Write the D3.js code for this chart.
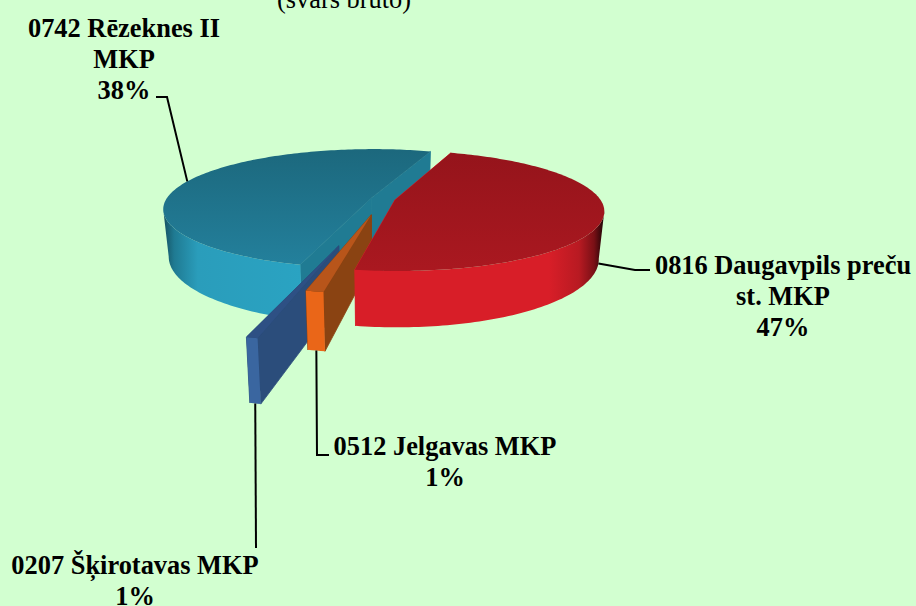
<!DOCTYPE html>
<html>
<head>
<meta charset="utf-8">
<script src="https://cdn.jsdelivr.net/npm/d3@7"></script>
<style>
  html, body { margin: 0; padding: 0; background: #d2ffd0; }
  svg { display: block; }
  text { font-family: "Liberation Serif", serif; fill: #000; }
</style>
</head>
<body>
<div id="chart"></div>
<script>
// values as printed on the labels
var names = ["0816 Daugavpils preču", "0512 Jelgavas MKP", "0207 Šķirotavas MKP", "0742 Rēzeknes II"];
var percents = [47, 1, 1, 38];
// the wedges are not drawn to their labels (teal is much wider than 38%), these are read off the picture
var drawnShares = [47.4, 1.1, 0.65, 50.85];
var explode = [0.06, 0.265, 0.73, 0.06];
var labelLines = [
  ["0816 Daugavpils preču", "st. MKP", "47%"],
  ["0512 Jelgavas MKP", "1%"],
  ["0207 Šķirotavas MKP", "1%"],
  ["0742 Rēzeknes II", "MKP", "38%"]
];

var width = 916, height = 606;

// flattened pie: rx, ry, perspective strength, height of the disc
var cx = 383, cy = 199, rx = 205, ry = 58, persp = 0.18, depth = 46;

var svg = d3.select("#chart").append("svg")
  .attr("width", width)
  .attr("height", height);

var defs = svg.append("defs");

function vGrad(id, from, to) {
  var g = defs.append("linearGradient").attr("id", id)
    .attr("x1", 0).attr("y1", 0).attr("x2", 0).attr("y2", 1);
  g.append("stop").attr("offset", 0).attr("stop-color", from);
  g.append("stop").attr("offset", 1).attr("stop-color", to);
}

function hGrad(id, x1, x2, stops) {
  var g = defs.append("linearGradient").attr("id", id)
    .attr("gradientUnits", "userSpaceOnUse")
    .attr("x1", x1).attr("y1", 0).attr("x2", x2).attr("y2", 0);
  stops.forEach(function (s) {
    g.append("stop").attr("offset", s[0]).attr("stop-color", s[1]);
  });
}

vGrad("redTop", "#95141b", "#aa1820");
vGrad("tealTop", "#1c687d", "#23809c");
hGrad("redSide", 354, 604, [[0, "#d81e28"], [0.78, "#d81e28"], [0.9, "#b81a22"], [0.96, "#7a1016"], [1, "#1c0406"]]);
hGrad("tealSide", 163, 302, [[0, "#15505f"], [0.08, "#1f7a92"], [0.25, "#2a9dbb"], [1, "#2aa3c2"]]);

var colors = [
  { top: "url(#redTop)", side: "url(#redSide)", face: "#d81e28" },
  { top: "#b8551a", side: "#ea6618", face: "#8a4312" },
  { top: "#2e5084", side: "#3a66a0", face: "#2b4d7b" },
  { top: "url(#tealTop)", side: "url(#tealSide)", face: "#207b93" }
];

var arcs = d3.pie().sort(null)
  .startAngle(19.2 * Math.PI / 180)
  .endAngle(379.2 * Math.PI / 180)(drawnShares);

// u, v are on the unit disc (v towards the viewer), z 0 is top 1 is bottom
function project(u, v, z) {
  var p = 1 / (1 - persp * v);
  var shrink = 1 - 0.025 * z;
  return [cx + u * rx * p * shrink, cy + v * ry * p + z * depth * p];
}

function polar(a, r, off, z) {
  return project(Math.sin(off.a) * off.e + Math.sin(a) * r,
    -Math.cos(off.a) * off.e - Math.cos(a) * r, z);
}

var line = d3.line();

function rim(d, off, z) {
  var n = Math.max(2, Math.ceil((d.endAngle - d.startAngle) / 0.02));
  return d3.range(n + 1).map(function (i) {
    return polar(d.startAngle + (d.endAngle - d.startAngle) * i / n, 1, off, z);
  });
}

// only the part of the wall between the silhouette and the front shows
function visibleWall(top, bottom) {
  var xs = top.map(function (p) { return p[0]; });
  var lo = d3.minIndex(xs), hi = d3.maxIndex(xs), a = 0, b = top.length - 1;
  if (lo > 0 && lo < b) b = lo;
  if (hi > 0 && hi < top.length - 1) a = hi;
  return top.slice(a, b + 1).concat(bottom.slice(a, b + 1).reverse());
}

// back to front
var order = [3, 2, 1, 0];
var slices = svg.selectAll("g.slice")
  .data(order)
  .enter().append("g")
  .attr("class", "slice")
  .each(function (idx) {
    var g = d3.select(this), d = arcs[idx], c = colors[idx];
    var off = { a: (d.startAngle + d.endAngle) / 2, e: explode[idx] };
    var top = rim(d, off, 0), bottom = rim(d, off, 1);

    // two cut faces, stroked so no pale seam shows next to the top
    [d.endAngle, d.startAngle].forEach(function (a) {
      g.append("path")
        .attr("d", line([polar(a, 0, off, 0), polar(a, 1, off, 0), polar(a, 1, off, 1), polar(a, 0, off, 1)]) + "Z")
        .attr("fill", c.face)
        .attr("stroke", c.face)
        .attr("stroke-width", 0.8);
    });

    // outer wall
    g.append("path")
      .attr("d", line(visibleWall(top, bottom)) + "Z")
      .attr("fill", c.side);

    g.append("path")
      .attr("d", line([polar(0, 0, off, 0)].concat(top)) + "Z")
      .attr("fill", c.top);
  });

// leader lines start on the rim at the middle of the wedge
var leaderEnds = [
  { z: 1, pts: [[635, 270], [650, 270]] },
  { z: 1, pts: [[317, 455], [329, 455]] },
  { z: 1, pts: [[256, 548]] },
  { z: 0, pts: [[167, 97], [156, 97]] }
];
var labelPos = [[783, 274], [445, 455], [135, 574], [124, 37]];
var lineStep = 31;

svg.selectAll("path.leader")
  .data(arcs)
  .enter().append("path")
  .attr("class", "leader")
  .attr("fill", "none")
  .attr("stroke", "#000")
  .attr("stroke-width", 2)
  .attr("d", function (d, i) {
    var off = { a: (d.startAngle + d.endAngle) / 2, e: explode[i] };
    return line([polar(off.a, 1, off, leaderEnds[i].z)].concat(leaderEnds[i].pts));
  });

var labels = svg.selectAll("text.label")
  .data(labelLines)
  .enter().append("text")
  .attr("class", "label")
  .attr("text-anchor", "middle")
  .attr("font-weight", "bold")
  .attr("font-size", 26.4);

labels.selectAll("tspan")
  .data(function (d, i) { return d.map(function (t, j) { return { t: t, i: i, j: j }; }); })
  .enter().append("tspan")
  .attr("x", function (d) { return labelPos[d.i][0]; })
  .attr("y", function (d) { return labelPos[d.i][1] + d.j * lineStep; })
  .text(function (d) { return d.t; });

// title is cut off by the top of the image
svg.append("text")
  .attr("x", 344)
  .attr("y", 8)
  .attr("text-anchor", "middle")
  .attr("font-size", 26.4)
  .text("(svars bruto)");
</script>
</body>
</html>
